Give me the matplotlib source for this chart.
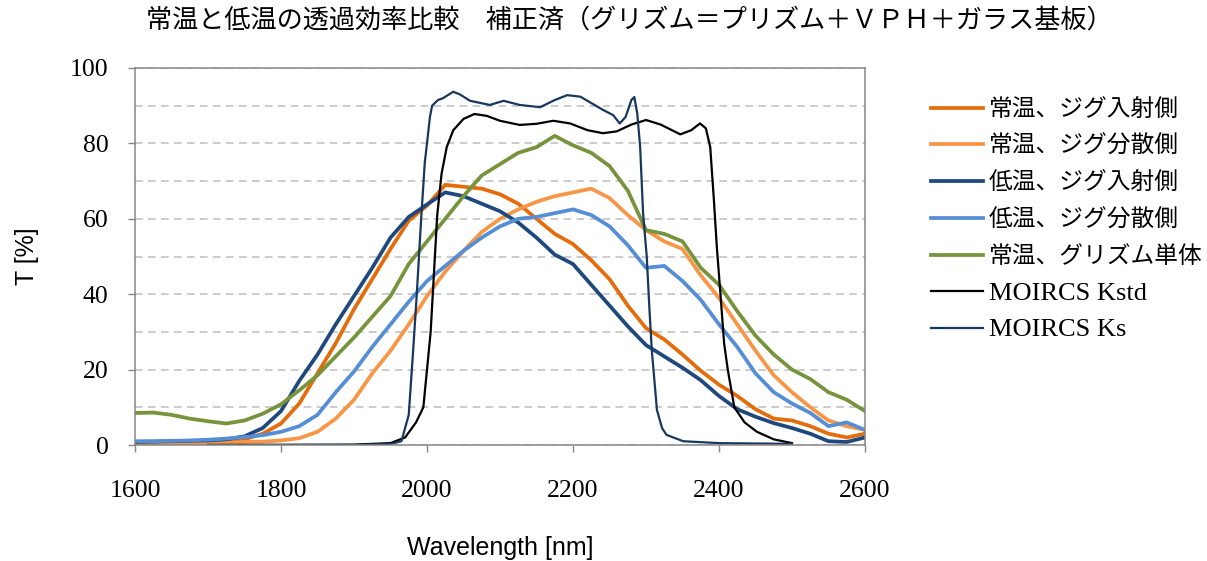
import numpy as np
import matplotlib
matplotlib.use("Agg")
import matplotlib.pyplot as plt

wl = np.arange(1600, 2601, 25)

rt_in = [0.5, 0.5, 0.6, 0.7, 0.8, 1.0, 1.5, 3.0, 5.7, 11, 19, 27, 36, 44, 52, 59.5, 63.5,
         69, 68.5, 68, 66.5, 64, 60, 56, 53.3, 49, 44, 37, 31, 28, 24, 19.7, 16, 13, 9.5,
         7, 6.5, 5, 3, 2, 3]
rt_out = [0.3, 0.3, 0.4, 0.4, 0.5, 0.6, 0.8, 0.9, 1.2, 1.8, 3.5, 7, 12, 19, 25, 32, 39.5,
          46, 51.5, 56.5, 60, 62.5, 64.5, 66, 67, 68, 65.5, 61, 57, 54, 52, 45, 39, 32, 25,
          18.5, 14, 10, 6.5, 5, 4]
lt_in = [0.8, 0.9, 1.0, 1.1, 1.2, 1.5, 2.3, 4.5, 9, 17, 24, 32, 39.5, 47, 55, 60.5, 63.8,
         67, 66, 64, 62, 59, 55, 50.5, 48, 42.5, 37, 31.5, 26.5, 23.5, 20.5, 17.2, 13, 9.5,
         7.5, 5.8, 4.5, 3, 1, 0.8, 2]
lt_out = [1.0, 1.0, 1.1, 1.2, 1.4, 1.7, 2.1, 2.6, 3.5, 5, 8, 14, 19.5, 26, 32, 38, 43.5,
          47.5, 51.5, 55, 58, 60, 60.5, 61.5, 62.5, 61, 58, 53, 47, 47.5, 43.5, 38.5, 32,
          26, 19, 14, 11, 8.5, 5, 6, 4]
grism = [8.5, 8.6, 8, 7, 6.3, 5.7, 6.5, 8.3, 10.8, 14.5, 18.5, 23.5, 28.5, 34, 39.5, 48,
         54, 60, 66, 71.5, 74.5, 77.5, 79, 82, 79.5, 77.5, 74, 67.5, 57, 56, 54, 47, 42.5,
         35.5, 29, 24, 20, 17.5, 14, 12, 9]

kstd_wl = [1700, 1900, 1950, 1970, 1985, 1995, 2005, 2014, 2020, 2027, 2036, 2050, 2065,
           2082, 2100, 2127, 2150, 2173, 2196, 2220, 2241, 2260, 2280, 2300, 2320, 2347,
           2362, 2374, 2382, 2388, 2393, 2397, 2402, 2407, 2412, 2421, 2435, 2452, 2475, 2500]
kstd_t = [0, 0.1, 0.5, 2, 6, 10, 30, 61, 72, 79, 83.5, 86.5, 87.8, 87.3, 86, 84.9, 85.2,
          86, 85.3, 83.5, 82.7, 83.2, 85, 86.2, 85, 82.4, 83.5, 85.3, 84, 79, 65, 52.6, 40,
          27, 20, 10, 6, 3.5, 1.5, 0.5]

ks_wl = [1700, 1900, 1950, 1965, 1975, 1981, 1986, 1992, 1997, 2000, 2004, 2007, 2015, 2022,
         2036, 2045, 2059, 2086, 2105, 2127, 2155, 2175, 2192, 2210, 2241, 2255, 2264, 2272,
         2280, 2284, 2288, 2292, 2296, 2301, 2305, 2308, 2315, 2322, 2328, 2351, 2400, 2500]
ks_t = [0, 0, 0.3, 1, 8, 25, 40, 60, 75, 80, 87, 90, 91.5, 92, 93.7, 93, 91.3, 90.2, 91.3,
        90.2, 89.6, 91.5, 92.8, 92.4, 88.9, 87.5, 85.3, 87, 91.5, 92.3, 88, 79, 61.5, 50,
        35, 25, 9.3, 4.5, 2.7, 1, 0.5, 0.3]

labels = ['常温、ジグ入射側', '常温、ジグ分散側', '低温、ジグ入射側', '低温、ジグ分散側',
          '常温、グリズム単体', 'MOIRCS Kstd', 'MOIRCS Ks']
colors = ['#E46C0A', '#F79646', '#1F497D', '#558ED5', '#77933C', '#000000', '#17375E']

serif_cjk = ['Liberation Serif', 'Noto Sans CJK JP']

fig = plt.figure(figsize=(12.07, 5.61), dpi=100)
ax = fig.add_axes([135 / 1207, 116 / 561, 730 / 1207, 377 / 561])

series = [(wl, rt_in), (wl, rt_out), (wl, lt_in), (wl, lt_out), (wl, grism),
          (kstd_wl, kstd_t), (ks_wl, ks_t)]
for i, (x, y) in enumerate(series):
    lw = 2.7 if i < 5 else 1.6
    ax.plot(x, y, color=colors[i], lw=lw, label=labels[i], solid_joinstyle='round')

ax.set_xlim(1600, 2600)
ax.set_ylim(0, 100)
ax.set_xticks(np.arange(1600, 2601, 200))
ax.set_yticks(np.arange(0, 101, 20))
ax.set_yticks(np.arange(0, 101, 10), minor=True)
ax.grid(True, which='both', axis='y', linestyle=(0, (5, 3.5)), color='#BFBFBF', lw=1.1)
ax.set_axisbelow(True)
ax.tick_params(axis='y', which='minor', length=0)
ax.tick_params(which='major', length=5, width=1, color='#868686', direction='out')
ax.tick_params(axis='x', pad=20)
ax.tick_params(axis='y', pad=14)
for lab in ax.get_xticklabels() + ax.get_yticklabels():
    lab.set_fontfamily('Liberation Serif')
    lab.set_fontsize(18.5)
for sp in ax.spines.values():
    sp.set_color('#868686')
    sp.set_linewidth(1.1)

ax.set_xlabel('Wavelength [nm]', fontsize=18, family='Liberation Sans', va='center')
ax.set_ylabel('T [%]', fontsize=18, family='Liberation Sans', va='center')
ax.xaxis.set_label_coords(0.5, (445 - 548) / 377)
ax.yaxis.set_label_coords((27 - 135) / 730, 0.5)

fig.text(629 / 1207, 1 - 20 / 561,
         '常温と低温の透過効率比較　補正済（グリズム＝プリズム＋ＶＰＨ＋ガラス基板）',
         ha='center', va='center', fontsize=18.8, family=serif_cjk)

leg = fig.legend(loc='upper left', bbox_to_anchor=(919 / 1207, 1 - 87 / 561),
                 frameon=False, borderpad=0, handlelength=2.2, handletextpad=0.25,
                 labelspacing=0.62, prop={'family': serif_cjk, 'size': 17.1})
for t in leg.get_texts()[5:]:
    t.set_fontsize(19)

fig.savefig('out.png', dpi=100)
